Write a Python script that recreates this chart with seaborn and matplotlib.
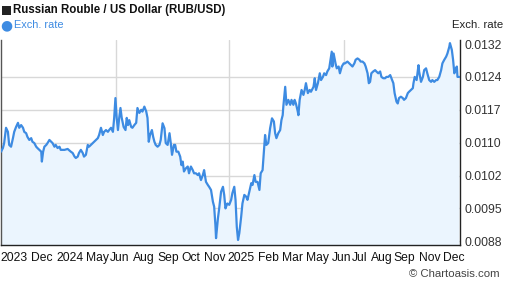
import numpy as np
import pandas as pd
import matplotlib
matplotlib.use("Agg")
import matplotlib.pyplot as plt
from matplotlib.patches import Rectangle, Circle
import seaborn as sns

# ---- data ----
day = [0, 3, 5, 8, 11, 13, 16, 19, 21, 24, 27, 29, 32, 35, 37, 40, 42, 45, 48, 50,
       53, 56, 58, 61, 64, 65, 67, 69, 72, 74, 77, 80, 82, 85, 87, 90, 93, 95, 101, 106,
       111, 114, 117, 119, 122, 124, 127, 130, 132, 135, 138, 140, 143, 146, 148, 151, 154, 156, 159, 162,
       164, 167, 170, 172, 175,
       178, 180, 182, 184, 186, 188, 190, 192, 195, 198, 200, 202, 204, 207, 209, 212, 215, 217, 220, 223,
       225, 228, 231, 233, 235, 237, 240, 242, 244, 246, 249, 252, 254, 257, 260, 262, 265, 268, 270, 272,
       275, 277, 279, 282, 285, 287, 289, 291, 294, 297, 299, 302, 305, 307, 310, 313, 315, 318, 321, 323,
       326, 329, 331, 334, 337, 339, 341, 342, 345, 347, 350, 353, 355, 357,
       358, 360, 363, 366, 368, 371, 373, 375, 377, 379, 382, 384, 387, 390, 392, 395, 398, 400, 403, 405,
       408, 411, 413, 416, 419, 420, 422, 425, 428, 431, 434, 436, 438, 441, 444, 446, 448, 449, 452, 454,
       457, 460, 462, 465, 467, 469, 472, 473, 475, 478, 481, 483, 485, 488, 491, 493, 497, 499, 501, 504,
       507, 509, 512, 514, 517, 519, 522, 524, 526, 527, 529, 532, 534, 537, 539, 542, 545, 547,
       551, 554, 557, 559, 562, 564, 567, 570, 572, 575, 578, 580, 583, 585, 587, 589, 592, 595, 597, 600,
       603, 605, 608, 611, 613, 616, 619, 621, 624, 626, 629, 631, 633, 636, 639, 641, 644, 647, 649, 652,
       655, 656, 658, 661, 664, 665, 668, 671, 673, 676, 678, 681, 684, 686, 689, 692, 694, 697, 700, 702,
       705, 708, 710, 713, 714, 717, 719, 721, 722, 725, 726, 729]

rate = [0.01077, 0.01085, 0.01096, 0.01130, 0.01121, 0.01092, 0.01088, 0.01107, 0.01121, 0.01132,
        0.01141, 0.01130, 0.01136, 0.01130, 0.01121, 0.01118, 0.01110, 0.01103, 0.01107, 0.01099,
        0.01096, 0.01088, 0.01085, 0.01081, 0.01077, 0.01055, 0.01077, 0.01088, 0.01092, 0.01096,
        0.01103, 0.01099, 0.01096, 0.01088, 0.01092, 0.01085, 0.01088, 0.01081, 0.01081, 0.01083,
        0.01077, 0.01074, 0.01066, 0.01063, 0.01066, 0.01074, 0.01081, 0.01074, 0.01066, 0.01070,
        0.01092, 0.01088, 0.01092, 0.01096, 0.01099, 0.01103, 0.01107, 0.01114, 0.01130, 0.01114,
        0.01121, 0.01125, 0.01121, 0.01125, 0.01130,
        0.01121, 0.01152, 0.01196, 0.01152, 0.01125, 0.01152, 0.01174, 0.01152, 0.01132, 0.01125,
        0.01152, 0.01136, 0.01147, 0.01132, 0.01130, 0.01136, 0.01141, 0.01174, 0.01163, 0.01170,
        0.01166, 0.01177, 0.01166, 0.01152, 0.01099, 0.01114, 0.01125, 0.01110, 0.01099, 0.01092,
        0.01088, 0.01092, 0.01103, 0.01140, 0.01129, 0.01096, 0.01092, 0.01118, 0.01096, 0.01070,
        0.01092, 0.01092, 0.01077, 0.01077, 0.01066, 0.01047, 0.01055, 0.01033, 0.01040, 0.01044,
        0.01029, 0.01044, 0.01036, 0.01029, 0.01029, 0.01025, 0.01029, 0.01014, 0.01025, 0.01036,
        0.01010, 0.01003, 0.00999, 0.00992, 0.00966, 0.00955, 0.00914, 0.00885, 0.00929, 0.00951,
        0.00988, 0.00999, 0.00981, 0.00951,
        0.00955, 0.00962, 0.00959, 0.00970, 0.00985, 0.00999, 0.00970, 0.00910, 0.00881, 0.00896,
        0.00933, 0.00962, 0.00981, 0.00977, 0.00970, 0.00988, 0.01007, 0.01003, 0.01025, 0.01010,
        0.01010, 0.00992, 0.01029, 0.01036, 0.01096, 0.01114, 0.01092, 0.01096, 0.01129, 0.01151,
        0.01144, 0.01118, 0.01107, 0.01118, 0.01125, 0.01147, 0.01158, 0.01177, 0.01221, 0.01181,
        0.01192, 0.01181, 0.01192, 0.01181, 0.01192, 0.01184, 0.01166, 0.01158, 0.01192, 0.01214,
        0.01203, 0.01214, 0.01229, 0.01207, 0.01214, 0.01210, 0.01221, 0.01240, 0.01214, 0.01229,
        0.01251, 0.01236, 0.01243, 0.01251, 0.01247, 0.01255, 0.01262, 0.01281, 0.01299, 0.01266,
        0.01295, 0.01273, 0.01262, 0.01266, 0.01251, 0.01266, 0.01273, 0.01273,
        0.01277, 0.01273, 0.01269, 0.01266, 0.01273, 0.01281, 0.01284, 0.01281, 0.01277, 0.01277,
        0.01273, 0.01266, 0.01251, 0.01229, 0.01232, 0.01251, 0.01255, 0.01258, 0.01255, 0.01251,
        0.01255, 0.01243, 0.01240, 0.01240, 0.01243, 0.01243, 0.01247, 0.01240, 0.01229, 0.01207,
        0.01188, 0.01184, 0.01196, 0.01199, 0.01196, 0.01192, 0.01196, 0.01207, 0.01210, 0.01214,
        0.01218, 0.01229, 0.01243, 0.01236, 0.01269, 0.01255, 0.01232, 0.01243, 0.01258, 0.01262,
        0.01251, 0.01236, 0.01232, 0.01236, 0.01232, 0.01236, 0.01236, 0.01243, 0.01258, 0.01273,
        0.01281, 0.01288, 0.01295, 0.01310, 0.01318, 0.01303, 0.01281, 0.01251, 0.01258, 0.01266,
        0.01243, 0.01243]

x_labels = ["2023", "Dec", "2024", "May", "Jun", "Aug", "Sep", "Oct", "Nov", "2025",
            "Feb", "Mar", "May", "Jun", "Jul", "Aug", "Sep", "Nov", "Dec"]
x_label_pos = [21, 65, 110, 153, 188, 227, 266, 302, 340, 382,
               425, 464, 504, 541, 571, 605, 642, 682, 720]
x_grid_pos = [183, 363, 546]

y_ticks = [0.00878, 0.00951, 0.01024, 0.01097, 0.01170, 0.01243, 0.01316]
y_labels = ["0.0088", "0.0095", "0.0102", "0.0110", "0.0117", "0.0124", "0.0132"]

title = "Russian Rouble / US Dollar (RUB/USD)"
series_name = "Exch. rate"

df = pd.DataFrame({"day": day, "rate": rate})

# ---- style ----
sns.set_theme(style="white")
plt.rcParams["font.family"] = ["Liberation Sans", "DejaVu Sans"]

LINE = "#3d8be2"
FILL = "#ebf5fe"
GRID = "#d8d8d8"

W, H = 507, 288
fig = plt.figure(figsize=(W / 100, H / 100), dpi=100)
ax = fig.add_axes([1 / W, 1 - 245 / H, 459 / W, 205 / H])

ax.fill_between(df["day"], df["rate"], 0.0, color=FILL, lw=0, zorder=1)
sns.lineplot(data=df, x="day", y="rate", ax=ax, color=LINE, lw=1.6, zorder=3)

ax.set_xlim(0, 730)
ax.set_ylim(0.008698, 0.013249)

ax.set_xticks(x_label_pos)
ax.set_xticklabels(x_labels)
ax.set_xticks(x_grid_pos, minor=True)
ax.set_yticks(y_ticks)
ax.set_yticklabels(y_labels)
ax.yaxis.tick_right()

ax.tick_params(axis="x", which="both", length=0, pad=5, labelsize=8.7, labelcolor="#111111")
ax.tick_params(axis="y", length=0, pad=3, labelsize=8.7, labelcolor="#333333")

ax.grid(False)
ax.grid(True, axis="x", which="minor", color=GRID, lw=1.0, zorder=0)
ax.grid(True, axis="y", which="major", color=GRID, lw=1.0, zorder=0)
ax.yaxis.get_gridlines()[-1].set_visible(False)
ax.set_axisbelow(True)

ax.set_xlabel("")
ax.set_ylabel("")
for s in ["left", "bottom", "right"]:
    ax.spines[s].set_visible(True)
    ax.spines[s].set_color("#222222")
    ax.spines[s].set_linewidth(1.0)
ax.spines["left"].set_color("#555555")
ax.spines["top"].set_visible(False)

# header markers (figure-fraction coordinates)
fig.patches.append(Rectangle((2 / W, 1 - 14.5 / H), 9 / W, 9 / H,
                             transform=fig.transFigure, facecolor="#222222",
                             edgecolor="none", figure=fig))
fig.patches.append(Rectangle((2 / W, 1 - 29.5 / H), 9 / W, 9 / H,
                             transform=fig.transFigure, facecolor="none",
                             edgecolor="none", figure=fig))
fig.text(0.5 / W, 1 - 25 / H, "●", family="DejaVu Sans", fontsize=10,
         color=LINE, va="center", ha="left")

fig.text(13 / W, 1 - 10 / H, title, fontsize=8.3, fontweight="bold",
         color="#111111", va="center", ha="left")
fig.text(14 / W, 1 - 25 / H, series_name, fontsize=7.9,
         color=LINE, va="center", ha="left")
fig.text(503 / W, 1 - 25 / H, "Exch. rate", fontsize=8.2,
         color="#222222", va="center", ha="right")
fig.text(500 / W, 1 - 274 / H, "© Chartoasis.com", fontsize=8.2,
         color="#444444", va="center", ha="right")

fig.savefig("out.png", dpi=100)
